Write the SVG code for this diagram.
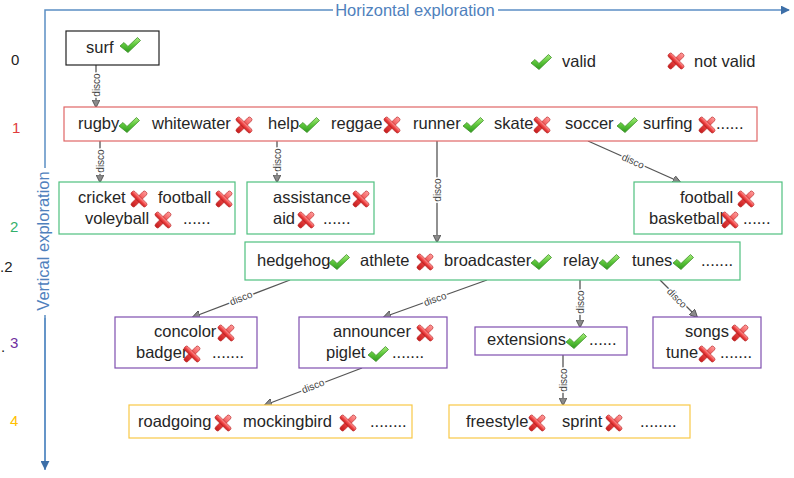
<svg xmlns="http://www.w3.org/2000/svg" xmlns:xlink="http://www.w3.org/1999/xlink" width="794" height="478" viewBox="0 0 794 478">
<defs>
<linearGradient id="gg" x1="0" y1="0" x2="0" y2="1">
<stop offset="0" stop-color="#a6ec7a"/><stop offset="0.5" stop-color="#5cc63a"/><stop offset="1" stop-color="#2f9a1e"/>
</linearGradient>
<linearGradient id="rg" x1="0" y1="0" x2="0" y2="1">
<stop offset="0" stop-color="#ff9a9a"/><stop offset="0.5" stop-color="#f04848"/><stop offset="1" stop-color="#c41d1d"/>
</linearGradient>
<symbol id="chk" viewBox="0 0 22 18">
<path d="M1,10 L5,6.5 L9,10.5 L18.5,1.5 L21.5,4.5 L9,16.5 Z" fill="url(#gg)" stroke="#3f8f2a" stroke-width="0.8" stroke-linejoin="round"/>
</symbol>
<symbol id="crs" viewBox="0 0 18 18">
<g transform="rotate(45 9 9)" fill="url(#rg)" stroke="#b52020" stroke-width="0.6">
<rect x="6.6" y="-1" width="4.8" height="20" rx="2"/>
<rect x="-1" y="6.6" width="20" height="4.8" rx="2"/>
</g>
</symbol>
<marker id="ah" viewBox="0 0 10 10" refX="9" refY="5" markerWidth="8" markerHeight="8" orient="auto" markerUnits="userSpaceOnUse">
<path d="M0,0 L10,5 L0,10 Z" fill="#8a8a8a" stroke="#444" stroke-width="1"/>
</marker>
<marker id="axh" viewBox="0 0 10 10" refX="9" refY="5" markerWidth="9" markerHeight="9" orient="auto" markerUnits="userSpaceOnUse">
<path d="M0,0 L10,5 L0,10 Z" fill="#3d6fa8"/>
</marker>
</defs>
<style>
.t{font-family:"Liberation Sans",Arial,sans-serif;font-size:16.5px;fill:#262626}
.ax{font-family:"Liberation Sans",Arial,sans-serif;font-size:16.5px;fill:#4f81bd}
.num{font-family:"Liberation Sans",Arial,sans-serif;font-size:15px}
.lbl{font-family:"Liberation Sans",Arial,sans-serif;font-size:10px;fill:#444;stroke:#fff;stroke-width:3;paint-order:stroke;text-anchor:middle;dominant-baseline:central}
.c{stroke:#555;stroke-width:1.3;fill:none;marker-end:url(#ah)}
.axl{stroke:#5b8ec4;stroke-width:1.5;fill:none}
.bk{fill:#fff;stroke:#222;stroke-width:1.2}
.rd{fill:#fff;stroke:#e06666;stroke-width:1.2}
.gr{fill:#fff;stroke:#4fc07f;stroke-width:1.2}
.pu{fill:#fff;stroke:#7f4fb0;stroke-width:1.2}
.ye{fill:#fff;stroke:#f9c846;stroke-width:1.2}
</style>

<g id="axes">
<path class="axl" d="M45,470 L45,315 M45,168 L45,10 L333,10"/>
<path class="axl" d="M45,318 L45,469" marker-end="url(#axh)"/>
<path class="axl" d="M498,10 L789,10" marker-end="url(#axh)"/>
<text class="ax" x="415" y="16" text-anchor="middle">Horizontal exploration</text>
<text class="ax" transform="translate(49,241) rotate(-90)" text-anchor="middle">Vertical exploration</text>
</g>

<g id="levels">
<text class="num" x="11" y="65" fill="#222">0</text>
<text class="num" x="12" y="133" fill="#e03c3c">1</text>
<text class="num" x="10" y="232" fill="#33b06b">2</text>
<text class="num" x="0" y="272" fill="#222">.2</text>
<text class="num" x="10" y="348" fill="#7030a0">3</text>
<text class="num" x="1" y="352" fill="#222">.</text>
<text class="num" x="10" y="426" fill="#ffc000">4</text>
</g>

<g id="legend">
<use href="#chk" x="530" y="53" width="22" height="18"/>
<text class="t" x="562" y="67">valid</text>
<use href="#crs" x="667" y="52" width="18" height="18"/>
<text class="t" x="694" y="67">not valid</text>
</g>

<g id="connectors">
<line class="c" x1="96" y1="65" x2="96" y2="107"/>
<text class="lbl" transform="translate(96,85) rotate(-90)">disco</text>
<line class="c" x1="100" y1="141" x2="100" y2="182"/>
<text class="lbl" transform="translate(100,161) rotate(-90)">disco</text>
<line class="c" x1="277" y1="141" x2="277" y2="182"/>
<text class="lbl" transform="translate(277,160) rotate(-90)">disco</text>
<line class="c" x1="437" y1="141" x2="437" y2="242"/>
<text class="lbl" transform="translate(437,190) rotate(-90)">disco</text>
<line class="c" x1="588" y1="141" x2="680" y2="182"/>
<text class="lbl" transform="translate(633,161) rotate(24)">disco</text>
<line class="c" x1="290" y1="280" x2="193" y2="317"/>
<text class="lbl" transform="translate(241,298) rotate(-21)">disco</text>
<line class="c" x1="487" y1="280" x2="384" y2="317"/>
<text class="lbl" transform="translate(435,299) rotate(-20)">disco</text>
<line class="c" x1="580" y1="280" x2="580" y2="327"/>
<text class="lbl" transform="translate(580,302) rotate(-90)">disco</text>
<line class="c" x1="660" y1="280" x2="697" y2="317"/>
<text class="lbl" transform="translate(677,298) rotate(46)">disco</text>
<line class="c" x1="563" y1="355" x2="563" y2="405"/>
<text class="lbl" transform="translate(563,380) rotate(-90)">disco</text>
<line class="c" x1="362" y1="368" x2="265" y2="405"/>
<text class="lbl" transform="translate(313,386) rotate(-21)">disco</text>
</g>

<g id="n-surf">
<rect class="bk" x="66" y="31" width="93" height="34"/>
<text class="t" x="86" y="53">surf</text>
<use href="#chk" x="119" y="36" width="22" height="18"/>
</g>

<g id="n-level1">
<rect class="rd" x="64" y="107" width="693" height="34"/>
<text class="t" x="78" y="129">rugby</text><use href="#chk" x="118" y="116" width="22" height="18"/>
<text class="t" x="152" y="129">whitewater</text><use href="#crs" x="235" y="116" width="18" height="18"/>
<text class="t" x="268" y="129">help</text><use href="#chk" x="298" y="116" width="22" height="18"/>
<text class="t" x="331" y="129">reggae</text><use href="#crs" x="383" y="116" width="18" height="18"/>
<text class="t" x="413" y="129">runner</text><use href="#chk" x="462" y="116" width="22" height="18"/>
<text class="t" x="494" y="129">skate</text><use href="#crs" x="533" y="116" width="18" height="18"/>
<text class="t" x="565" y="129">soccer</text><use href="#chk" x="616" y="116" width="22" height="18"/>
<text class="t" x="643" y="129">surfing</text><use href="#crs" x="698" y="116" width="18" height="18"/>
<text class="t" x="716" y="129">......</text>
</g>

<g id="n-rugby">
<rect class="gr" x="59" y="182" width="176" height="52"/>
<text class="t" x="78" y="203">cricket</text><use href="#crs" x="130" y="190" width="18" height="18"/>
<text class="t" x="158" y="203">football</text><use href="#crs" x="215" y="190" width="18" height="18"/>
<text class="t" x="85" y="224">voleyball</text><use href="#crs" x="154" y="211" width="18" height="18"/>
<text class="t" x="183" y="224">......</text>
</g>

<g id="n-help">
<rect class="gr" x="247" y="182" width="127" height="52"/>
<text class="t" x="273" y="203">assistance</text><use href="#crs" x="352" y="190" width="18" height="18"/>
<text class="t" x="273" y="224">aid</text><use href="#crs" x="297" y="211" width="18" height="18"/>
<text class="t" x="323" y="224">......</text>
</g>

<g id="n-soccer">
<rect class="gr" x="634" y="182" width="148" height="52"/>
<text class="t" x="680" y="203">football</text><use href="#crs" x="737" y="190" width="18" height="18"/>
<text class="t" x="649" y="224">basketball</text><use href="#crs" x="721" y="211" width="18" height="18"/>
<text class="t" x="743" y="224">......</text>
</g>

<g id="n-runner">
<rect class="gr" x="245" y="242" width="495" height="38"/>
<text class="t" x="257" y="266">hedgehog</text><use href="#chk" x="328" y="253" width="22" height="18"/>
<text class="t" x="360" y="266">athlete</text><use href="#crs" x="416" y="253" width="18" height="18"/>
<text class="t" x="444" y="266">broadcaster</text><use href="#chk" x="530" y="253" width="22" height="18"/>
<text class="t" x="563" y="266">relay</text><use href="#chk" x="598" y="253" width="22" height="18"/>
<text class="t" x="632" y="266">tunes</text><use href="#chk" x="672" y="253" width="22" height="18"/>
<text class="t" x="701" y="266">.......</text>
</g>

<g id="n-hedgehog">
<rect class="pu" x="115" y="317" width="142" height="51"/>
<text class="t" x="154" y="337">concolor</text><use href="#crs" x="217" y="324" width="18" height="18"/>
<text class="t" x="136" y="358">badger</text><use href="#crs" x="183" y="345" width="18" height="18"/>
<text class="t" x="212" y="358">.......</text>
</g>

<g id="n-broadcaster">
<rect class="pu" x="299" y="317" width="148" height="51"/>
<text class="t" x="333" y="337">announcer</text><use href="#crs" x="416" y="324" width="18" height="18"/>
<text class="t" x="326" y="358">piglet</text><use href="#chk" x="367" y="345" width="22" height="18"/>
<text class="t" x="392" y="358">.......</text>
</g>

<g id="n-relay">
<rect class="pu" x="475" y="327" width="152" height="28"/>
<text class="t" x="487" y="345">extensions</text><use href="#chk" x="565" y="332" width="22" height="18"/>
<text class="t" x="589" y="345">......</text>
</g>

<g id="n-tunes">
<rect class="pu" x="653" y="317" width="108" height="51"/>
<text class="t" x="685" y="337">songs</text><use href="#crs" x="731" y="324" width="18" height="18"/>
<text class="t" x="666" y="358">tune</text><use href="#crs" x="698" y="345" width="18" height="18"/>
<text class="t" x="720" y="358">.......</text>
</g>

<g id="n-piglet">
<rect class="ye" x="129" y="405" width="283" height="33"/>
<text class="t" x="138" y="427">roadgoing</text><use href="#crs" x="214" y="414" width="18" height="18"/>
<text class="t" x="243" y="427">mockingbird</text><use href="#crs" x="339" y="414" width="18" height="18"/>
<text class="t" x="370" y="427">........</text>
</g>

<g id="n-extensions">
<rect class="ye" x="449" y="405" width="241" height="33"/>
<text class="t" x="466" y="427">freestyle</text><use href="#crs" x="528" y="414" width="18" height="18"/>
<text class="t" x="562" y="427">sprint</text><use href="#crs" x="605" y="414" width="18" height="18"/>
<text class="t" x="640" y="427">........</text>
</g>
</svg>
